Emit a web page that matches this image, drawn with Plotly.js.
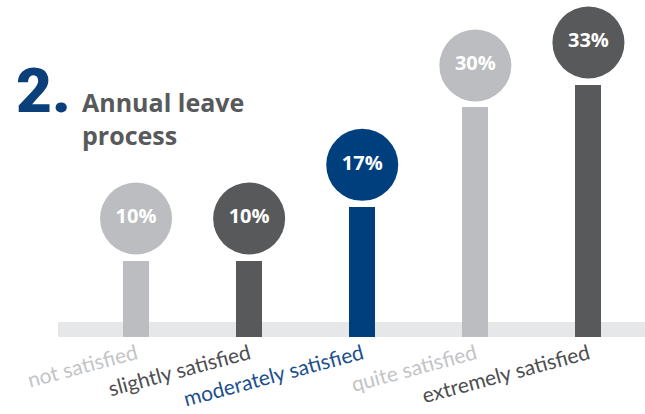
<!DOCTYPE html>
<html>
<head>
<meta charset="utf-8">
<script src="https://cdn.plot.ly/plotly-3.0.1.min.js"></script>
<style>html,body{margin:0;padding:0;background:#fff;}#chart{width:645px;height:414px;}</style>
</head>
<body>
<div id="chart"></div>
<script>
const categories = ["not satisfied", "slightly satisfied", "moderately satisfied", "quite satisfied", "extremely satisfied"];
const values = [10, 10, 17, 30, 33];
const valueLabels = ["10%", "10%", "17%", "30%", "33%"];
const barColors = ["#bcbdc0", "#58595b", "#003f7d", "#bcbdc0", "#58595b"];
const labelColors = ["#c3c4c6", "#4d4e50", "#1d4f8c", "#c3c4c6", "#4d4e50"];

const circleOffset = 5.5; // gap (axis units) from bar top to circle centre

const barTrace = {
  type: "bar",
  x: categories,
  y: values,
  width: 0.23,
  marker: {color: barColors},
  hoverinfo: "skip"
};
const circleTrace = {
  type: "scatter",
  mode: "markers+text",
  x: categories,
  y: values.map(v => v + circleOffset),
  text: valueLabels,
  textposition: "middle center",
  textfont: {family: "Open Sans", size: 20, color: "#ffffff", weight: "bold"},
  marker: {size: 72, color: barColors, line: {width: 0}},
  cliponaxis: false,
  hoverinfo: "skip"
};

const layout = {
  width: 645, height: 414,
  margin: {l: 58, r: 0, t: 0, b: 77},
  paper_bgcolor: "#ffffff",
  plot_bgcolor: "rgba(0,0,0,0)",
  showlegend: false,
  bargap: 0,
  xaxis: {
    type: "category",
    range: [-0.69, 4.5],
    tickvals: categories,
    ticktext: categories.map((c, i) => '<span style="color:' + labelColors[i] + '">' + c + '</span>'),
    tickangle: -15,
    ticks: "",
    ticklen: 0,
    showgrid: false, zeroline: false, showline: false,
    tickfont: {family: "Lato", size: 21, color: "#58595b"},
    fixedrange: true
  },
  yaxis: {
    range: [0, 44.05],
    visible: false,
    showgrid: false, zeroline: false,
    fixedrange: true
  },
  shapes: [{
    type: "rect", xref: "paper", yref: "y",
    x0: 0, x1: 1, y0: 0, y1: 1.96,
    fillcolor: "#e6e7e8", line: {width: 0}, layer: "below"
  }],
  title: {
    text: "Annual leave<br>process",
    x: 82 / 645, xanchor: "left", xref: "container",
    y: 1 - 112 / 414, yanchor: "top", yref: "container",
    font: {family: "Open Sans", size: 25, color: "#58595b", weight: "bold"}
  },
  annotations: [{
    text: "2.",
    xref: "paper", yref: "paper",
    x: -0.075, y: 1 - 52 / 337,
    xanchor: "left", yanchor: "top",
    showarrow: false,
    font: {family: "Roboto", size: 62, color: "#0b3f7a", weight: 900}
  }]
};

Plotly.newPlot("chart", [barTrace, circleTrace], layout, {displayModeBar: false, staticPlot: true});
</script>
</body>
</html>
